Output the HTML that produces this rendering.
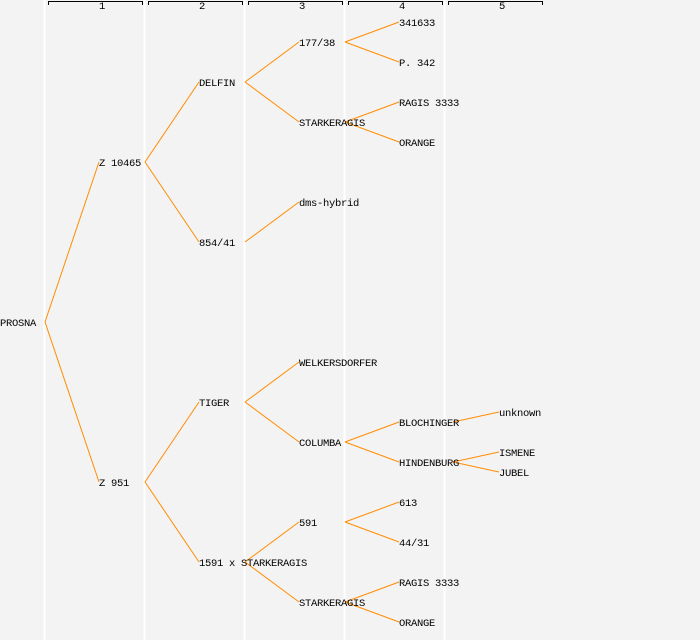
<!DOCTYPE html>
<html><head><style>
body{margin:0;background:#fff}
svg{display:block}
text{font-family:"Liberation Mono","DejaVu Sans Mono",monospace;font-size:10.5px;letter-spacing:-0.3px;fill:#000;dominant-baseline:central}
</style></head><body>
<svg width="700" height="640" viewBox="0 0 700 640">
<rect width="700" height="640" fill="#f3f3f3"/>
<g stroke="#fff" stroke-width="2">
<line x1="44.5" y1="0" x2="44.5" y2="640"/><line x1="144.5" y1="0" x2="144.5" y2="640"/><line x1="244.5" y1="0" x2="244.5" y2="640"/><line x1="344.5" y1="0" x2="344.5" y2="640"/><line x1="444.5" y1="0" x2="444.5" y2="640"/>
</g>
<g stroke="#000" stroke-width="1" fill="none">
<path d="M48.5 5V1.5H142.5V5"/><path d="M148.5 5V1.5H242.5V5"/><path d="M248.5 5V1.5H342.5V5"/><path d="M348.5 5V1.5H442.5V5"/><path d="M448.5 5V1.5H542.5V5"/>
</g>
<g style="font-size:8px;letter-spacing:0" text-anchor="middle">
<text x="102" y="7">1</text><text x="202" y="7">2</text><text x="302" y="7">3</text><text x="402" y="7">4</text><text x="502" y="7">5</text>
</g>
<g stroke="#ff8c00" stroke-width="1" fill="none">
<path d="M45 322L99 162M45 322L99 482"/>
<path d="M145 162L199 82M145 162L199 242M145 482L199 402M145 482L199 562"/>
<path d="M245 82L299 42M245 82L299 122M245 242L299 202M245 402L299 362M245 402L299 442M245 562L299 522M245 562L299 602"/>
<path d="M345 42L399 22M345 42L399 62M345 122L399 102M345 122L399 142M345 442L399 422M345 442L399 462M345 522L399 502M345 522L399 542M345 602L399 582M345 602L399 622"/>
<path d="M453 422L499 412M453 462L499 452M453 462L499 472"/>
</g>
<g transform="translate(0,2)">
<text x="0" y="322">PROSNA</text>
<text x="99" y="162">Z 10465</text><text x="99" y="482">Z 951</text>
<text x="199" y="82">DELFIN</text><text x="199" y="242">854/41</text><text x="199" y="402">TIGER</text><text x="199" y="562">1591 x STARKERAGIS</text>
<text x="299" y="42">177/38</text><text x="299" y="122">STARKERAGIS</text><text x="299" y="202">dms-hybrid</text><text x="299" y="362">WELKERSDORFER</text><text x="299" y="442">COLUMBA</text><text x="299" y="522">591</text><text x="299" y="602">STARKERAGIS</text>
<text x="399" y="22">341633</text><text x="399" y="62">P. 342</text><text x="399" y="102">RAGIS 3333</text><text x="399" y="142">ORANGE</text><text x="399" y="422">BLOCHINGER</text><text x="399" y="462">HINDENBURG</text><text x="399" y="502">613</text><text x="399" y="542">44/31</text><text x="399" y="582">RAGIS 3333</text><text x="399" y="622">ORANGE</text>
<text x="499" y="412">unknown</text><text x="499" y="452">ISMENE</text><text x="499" y="472">JUBEL</text>
</g>
</svg>
</body></html>
